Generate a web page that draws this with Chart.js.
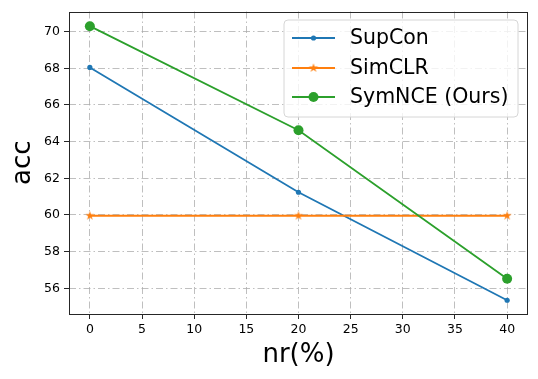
<!DOCTYPE html>
<html>
<head>
<meta charset="utf-8">
<script src="https://cdn.jsdelivr.net/npm/chart.js@4/dist/chart.umd.min.js"></script>
<style>
html,body{margin:0;padding:0;background:#fff;}
#wrap{width:538px;height:379px;position:relative;}
</style>
</head>
<body>
<div id="wrap"><canvas id="c" width="538" height="379"></canvas></div>
<script>
// ---- data ----
const noiseRates = [0, 20, 40];
const supconAcc = [68.05, 61.24, 55.35];
const simclrAcc = [59.96, 59.96, 59.96];
const symnceAcc = [70.30, 64.62, 56.52];
const seriesNames = ['SupCon', 'SimCLR', 'SymNCE (Ours)'];
const xTickValues = [0, 5, 10, 15, 20, 25, 30, 35, 40];
const yTickValues = [56, 58, 60, 62, 64, 66, 68, 70];
const xLabel = 'nr(%)';
const yLabel = 'acc';

const BLUE = '#1f77b4', ORANGE = '#ff7f0e', GREEN = '#2ca02c';
const FONT = "'DejaVu Sans', sans-serif";

function makeStar(color, R) {
  const s = Math.ceil(R * 2 + 2);
  const cv = document.createElement('canvas');
  cv.width = s; cv.height = s;
  const g = cv.getContext('2d');
  const c = s / 2, r = R * 0.381966;
  g.beginPath();
  for (let i = 0; i < 10; i++) {
    const rad = (i % 2 === 0) ? R : r;
    const a = -Math.PI / 2 + i * Math.PI / 5;
    const x = c + rad * Math.cos(a), y = c + rad * Math.sin(a);
    if (i === 0) g.moveTo(x, y); else g.lineTo(x, y);
  }
  g.closePath();
  g.fillStyle = color;
  g.fill();
  return cv;
}
const starImg = makeStar(ORANGE, 4.8);

const toPts = (ys) => noiseRates.map((x, i) => ({x: x, y: ys[i]}));

const frameAndLegend = {
  id: 'frameAndLegend',
  afterDatasetsDraw(chart) {
    const ctx = chart.ctx, a = chart.chartArea;
    ctx.save();
    ctx.setLineDash([]);
    ctx.strokeStyle = '#262626';
    ctx.lineWidth = 1;
    ctx.strokeRect(Math.round(a.left) + 0.5, Math.round(a.top) + 0.5,
                   Math.round(a.right - a.left) - 1, Math.round(a.bottom - a.top) - 1);
    // legend
    const bx = 284, by = 20, bw = 234, bh = 97, rr = 4;
    ctx.beginPath();
    ctx.moveTo(bx + rr, by);
    ctx.arcTo(bx + bw, by, bx + bw, by + bh, rr);
    ctx.arcTo(bx + bw, by + bh, bx, by + bh, rr);
    ctx.arcTo(bx, by + bh, bx, by, rr);
    ctx.arcTo(bx, by, bx + bw, by, rr);
    ctx.closePath();
    ctx.fillStyle = 'rgba(255,255,255,0.8)';
    ctx.fill();
    ctx.strokeStyle = '#d6d6d6';
    ctx.lineWidth = 1;
    ctx.stroke();
    const rows = [38, 68, 97];
    chart.data.datasets.forEach((ds, i) => {
      const y = rows[i];
      ctx.setLineDash([]);
      ctx.beginPath();
      ctx.strokeStyle = ds.borderColor;
      ctx.lineWidth = 2;
      ctx.moveTo(292, y); ctx.lineTo(335, y);
      ctx.stroke();
      const mx = 313.5;
      if (ds.pointStyle === 'circle') {
        ctx.beginPath();
        ctx.fillStyle = ds.backgroundColor;
        ctx.arc(mx, y, ds.pointRadius, 0, Math.PI * 2);
        ctx.fill();
      } else {
        const img = ds.pointStyle;
        ctx.drawImage(img, mx - img.width / 2, y - img.height / 2);
      }
      ctx.fillStyle = '#000';
      ctx.font = "20.5px " + FONT;
      ctx.textBaseline = 'middle';
      ctx.textAlign = 'left';
      ctx.fillText(ds.label, 350, y + 1);
    });
    ctx.restore();
  }
};

new Chart(document.getElementById('c'), {
  type: 'line',
  data: {
    datasets: [
      {label: seriesNames[0], data: toPts(supconAcc), borderColor: BLUE, backgroundColor: BLUE,
       borderWidth: 1.8, pointRadius: 2.6, pointStyle: 'circle', pointBorderWidth: 0, order: 3},
      {label: seriesNames[1], data: toPts(simclrAcc), borderColor: ORANGE, backgroundColor: ORANGE,
       borderWidth: 1.8, pointRadius: 4.8, pointStyle: starImg, pointBorderWidth: 0, order: 2},
      {label: seriesNames[2], data: toPts(symnceAcc), borderColor: GREEN, backgroundColor: GREEN,
       borderWidth: 1.8, pointRadius: 5, pointStyle: 'circle', pointBorderWidth: 0, order: 1}
    ]
  },
  options: {
    responsive: false,
    animation: false,
    devicePixelRatio: 1,
    layout: {padding: {left: 0, right: 10, top: 9, bottom: 0}},
    elements: {line: {tension: 0}},
    plugins: {legend: {display: false}, tooltip: {enabled: false}},
    scales: {
      x: {
        type: 'linear', min: -2, max: 42,
        afterBuildTicks: (s) => { s.ticks = xTickValues.map(v => ({value: v})); },
        afterFit: (s) => { s.height = 65; },
        grid: {color: 'rgba(170,170,170,0.75)', lineWidth: 1, drawTicks: true, tickLength: 5,
               tickColor: '#262626', tickWidth: 1, tickBorderDash: []},
        border: {display: false, dash: [7, 3, 1.5, 3]},
        ticks: {color: '#000', padding: 3, font: {family: FONT, size: 12.5}, maxRotation: 0,
                callback: (v) => String(v)},
        title: {display: true, text: xLabel, color: '#000', font: {family: FONT, size: 26},
                padding: {top: 0, bottom: 8}}
      },
      y: {
        type: 'linear', min: 54.6, max: 71.1,
        afterBuildTicks: (s) => { s.ticks = yTickValues.map(v => ({value: v})); },
        afterFit: (s) => { s.width = 69; },
        grid: {color: 'rgba(170,170,170,0.75)', lineWidth: 1, drawTicks: true, tickLength: 5,
               tickColor: '#262626', tickWidth: 1, tickBorderDash: []},
        border: {display: false, dash: [7, 3, 1.5, 3]},
        ticks: {color: '#000', padding: 4, font: {family: FONT, size: 12.5},
                callback: (v) => String(v)},
        title: {display: true, text: yLabel, color: '#000', font: {family: FONT, size: 26},
                padding: {top: 8, bottom: 0}}
      }
    }
  },
  plugins: [frameAndLegend]
});
</script>
</body>
</html>
